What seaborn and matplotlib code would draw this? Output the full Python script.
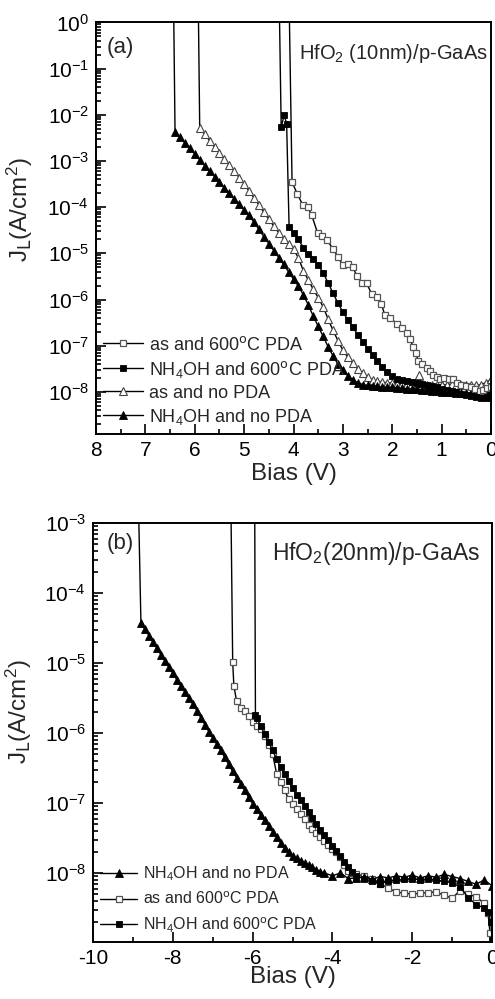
import numpy as np
import matplotlib
matplotlib.use("Agg")
import matplotlib.pyplot as plt
from matplotlib.ticker import LogLocator, MultipleLocator, NullFormatter
import seaborn as sns

sns.set_theme(style="ticks")
plt.rcParams["font.family"] = ["Liberation Sans", "DejaVu Sans"]
plt.rcParams["mathtext.default"] = "regular"
plt.rcParams["axes.unicode_minus"] = False
plt.rcParams["axes.linewidth"] = 1.4

# ---------------- (a) HfO2 (10 nm) / p-GaAs : bias (V) vs log10 J (A/cm^2)
v_a_as600 = [4.09, 4.03, 3.92, 3.81, 3.71, 3.63, 3.51, 3.42, 3.32, 3.20,
             3.10, 3.00, 2.90, 2.80, 2.72, 2.62, 2.52, 2.42, 2.30, 2.22,
             2.15, 2.05, 1.90, 1.80, 1.70, 1.64, 1.58, 1.52, 1.48, 1.40,
             1.30, 1.24, 1.18, 1.10, 1.04, 0.95, 0.85, 0.77, 0.68, 0.60,
             0.50, 0.40, 0.32, 0.23, 0.16, 0.09, 0.00]
lj_a_as600 = [0.5, -3.46, -3.72, -3.96, -4.00, -4.18, -4.57, -4.62, -4.72, -4.90,
              -5.08, -5.26, -5.22, -5.30, -5.48, -5.65, -5.65, -5.87, -5.95, -6.10,
              -6.34, -6.40, -6.52, -6.62, -6.73, -6.85, -7.03, -7.15, -7.32, -7.40,
              -7.49, -7.55, -7.64, -7.68, -7.71, -7.70, -7.72, -7.71, -7.80, -7.85,
              -7.88, -7.90, -7.93, -7.97, -7.95, -7.92, -7.90]

v_a_nh600 = [4.29, 4.25, 4.19, 4.14, 4.09, 4.0, 3.9, 3.8, 3.7, 3.6,
             3.5, 3.4, 3.3, 3.2, 3.1, 3.0, 2.9, 2.8, 2.7, 2.6,
             2.5, 2.4, 2.3, 2.2, 2.1, 2.0, 1.9, 1.8, 1.7, 1.6,
             1.5, 1.4, 1.3, 1.2, 1.1, 1.0, 0.9, 0.8, 0.7, 0.6,
             0.5, 0.4, 0.3, 0.2, 0.1, 0.0]
lj_a_nh600 = [0.5, -2.27, -2.01, -2.19, -4.42, -4.55, -4.70, -4.88, -5.01, -5.12,
              -5.25, -5.42, -5.64, -5.86, -6.08, -6.27, -6.44, -6.60, -6.76, -6.91,
              -7.06, -7.20, -7.33, -7.45, -7.57, -7.66, -7.71, -7.74, -7.76, -7.78,
              -7.80, -7.82, -7.85, -7.88, -7.90, -7.93, -7.96, -7.99, -8.01, -8.04,
              -8.06, -8.09, -8.11, -8.13, -8.14, -8.13]

v_a_asno = [5.93, 5.9, 5.8, 5.7, 5.6, 5.5, 5.4, 5.3, 5.2, 5.1,
            5.0, 4.9, 4.8, 4.7, 4.6, 4.5, 4.4, 4.3, 4.2, 4.1,
            4.0, 3.9, 3.8, 3.7, 3.6, 3.5, 3.4, 3.3, 3.2, 3.1,
            3.0, 2.9, 2.8, 2.7, 2.6, 2.5, 2.4, 2.3, 2.2, 2.1,
            2.0, 1.9, 1.8, 1.7, 1.6, 1.5, 1.45, 1.4, 1.3, 1.2,
            1.1, 1.0, 0.9, 0.8, 0.7, 0.6, 0.5, 0.4, 0.3, 0.2,
            0.1, 0.0]
lj_a_asno = [0.5, -2.28, -2.42, -2.56, -2.70, -2.83, -2.96, -3.09, -3.22, -3.36,
             -3.50, -3.65, -3.80, -3.95, -4.11, -4.26, -4.41, -4.55, -4.68, -4.80,
             -4.91, -5.10, -5.38, -5.58, -5.78, -5.96, -6.16, -6.42, -6.67, -6.89,
             -7.10, -7.25, -7.38, -7.50, -7.60, -7.68, -7.74, -7.77, -7.79, -7.80,
             -7.81, -7.82, -7.82, -7.83, -7.83, -7.80, -7.64, -7.81, -7.84, -7.85,
             -7.85, -7.85, -7.84, -7.83, -7.84, -7.85, -7.85, -7.86, -7.86, -7.84,
             -7.80, -7.72]

v_a_nhno = [6.43, 6.4, 6.3, 6.2, 6.1, 6.0, 5.9, 5.8, 5.7, 5.6,
            5.5, 5.4, 5.3, 5.2, 5.1, 5.0, 4.9, 4.8, 4.7, 4.6,
            4.5, 4.4, 4.3, 4.2, 4.1, 4.0, 3.9, 3.8, 3.7, 3.6,
            3.5, 3.4, 3.3, 3.2, 3.1, 3.0, 2.9, 2.8, 2.7, 2.6,
            2.5, 2.4, 2.3, 2.2, 2.1, 2.0, 1.9, 1.8, 1.7, 1.6,
            1.5, 1.4, 1.3, 1.2, 1.1, 1.0, 0.9, 0.8, 0.7, 0.6,
            0.5, 0.4, 0.3, 0.2, 0.1, 0.0]
lj_a_nhno = [0.5, -2.37, -2.49, -2.61, -2.73, -2.85, -2.97, -3.10, -3.22, -3.34,
             -3.46, -3.58, -3.70, -3.82, -3.94, -4.06, -4.18, -4.33, -4.48, -4.64,
             -4.79, -4.94, -5.09, -5.24, -5.40, -5.56, -5.71, -5.90, -6.12, -6.36,
             -6.58, -6.80, -7.02, -7.22, -7.40, -7.53, -7.65, -7.74, -7.80, -7.84,
             -7.86, -7.87, -7.88, -7.89, -7.90, -7.90, -7.91, -7.92, -7.93, -7.94,
             -7.94, -7.95, -7.96, -7.97, -7.98, -8.00, -8.00, -8.01, -8.02, -8.02,
             -8.03, -8.03, -8.03, -8.02, -8.00, -7.95]

# ---------------- (b) HfO2 (20 nm) / p-GaAs
v_b_nhno = [-8.87, -8.8, -8.7, -8.6, -8.5, -8.4, -8.3, -8.2, -8.1, -8.0,
            -7.9, -7.8, -7.7, -7.6, -7.5, -7.4, -7.3, -7.2, -7.1, -7.0,
            -6.9, -6.8, -6.7, -6.6, -6.5, -6.4, -6.3, -6.2, -6.1, -6.0,
            -5.9, -5.8, -5.7, -5.6, -5.5, -5.4, -5.3, -5.2, -5.1, -5.0,
            -4.9, -4.8, -4.7, -4.6, -4.5, -4.4, -4.3, -4.2, -4.0, -3.8,
            -3.6, -3.4, -3.2, -3.0, -2.8, -2.6, -2.4, -2.2, -2.0, -1.8,
            -1.6, -1.4, -1.2, -1.0, -0.8, -0.6, -0.4, -0.2, 0.0]
lj_b_nhno = [-2.5, -4.43, -4.52, -4.61, -4.70, -4.79, -4.88, -4.97, -5.06, -5.15,
             -5.24, -5.33, -5.41, -5.50, -5.59, -5.68, -5.78, -5.88, -5.98, -6.07,
             -6.16, -6.25, -6.35, -6.45, -6.55, -6.64, -6.73, -6.82, -6.92, -7.01,
             -7.09, -7.17, -7.25, -7.33, -7.41, -7.49, -7.57, -7.64, -7.70, -7.75,
             -7.79, -7.83, -7.86, -7.89, -7.92, -7.95, -7.98, -8.00, -8.04, -8.00,
             -8.08, -8.07, -8.06, -8.09, -8.05, -8.07, -8.04, -8.06, -8.03, -8.07,
             -8.04, -8.06, -8.02, -8.05, -8.08, -8.12, -8.16, -8.10, -8.18]

v_b_as600 = [-6.55, -6.5, -6.47, -6.4, -6.3, -6.2, -6.1, -6.0, -5.9, -5.8,
             -5.7, -5.6, -5.5, -5.4, -5.3, -5.2, -5.1, -5.0, -4.9, -4.8,
             -4.7, -4.6, -4.5, -4.4, -4.3, -4.2, -4.1, -4.0, -3.9, -3.8,
             -3.7, -3.6, -3.5, -3.4, -3.2, -3.0, -2.8, -2.6, -2.4, -2.2,
             -2.0, -1.8, -1.6, -1.4, -1.2, -1.0, -0.8, -0.6, -0.4, -0.2,
             -0.1, -0.05]
lj_b_as600 = [-2.5, -4.99, -5.33, -5.55, -5.64, -5.68, -5.76, -5.85, -5.90, -5.94,
              -6.05, -6.17, -6.30, -6.58, -6.70, -6.82, -6.94, -7.02, -7.09, -7.16,
              -7.23, -7.31, -7.37, -7.43, -7.49, -7.55, -7.60, -7.65, -7.70, -7.77,
              -7.88, -7.97, -8.00, -8.02, -8.04, -8.08, -8.15, -8.22, -8.27, -8.29,
              -8.30, -8.29, -8.28, -8.27, -8.32, -8.36, -8.25, -8.30, -8.34, -8.43,
              -8.57, -8.86]

v_b_nh600 = [-5.95, -5.93, -5.9, -5.8, -5.7, -5.6, -5.5, -5.4, -5.3, -5.2,
             -5.1, -5.0, -4.9, -4.8, -4.7, -4.6, -4.5, -4.4, -4.3, -4.2,
             -4.1, -4.0, -3.9, -3.8, -3.7, -3.6, -3.5, -3.4, -3.2, -3.0,
             -2.8, -2.6, -2.4, -2.2, -2.0, -1.8, -1.6, -1.4, -1.2, -1.0,
             -0.8, -0.6, -0.4, -0.2, -0.1, -0.03, 0.0]
lj_b_nh600 = [-2.5, -5.74, -5.78, -5.90, -6.02, -6.13, -6.25, -6.37, -6.49, -6.59,
              -6.69, -6.79, -6.88, -6.96, -7.04, -7.13, -7.22, -7.30, -7.39, -7.46,
              -7.53, -7.61, -7.68, -7.76, -7.84, -7.92, -7.99, -8.04, -8.08, -8.12,
              -8.15, -8.12, -8.10, -8.09, -8.08, -8.10, -8.08, -8.10, -8.12, -8.14,
              -8.20, -8.35, -8.45, -8.50, -8.55, -8.70, -8.95]

LBL_AS600 = r"as and 600$^{\mathrm{o}}$C PDA"
LBL_NH600 = r"NH$_4$OH and 600$^{\mathrm{o}}$C PDA"
LBL_ASNO = "as and no PDA"
LBL_NHNO = r"NH$_4$OH and no PDA"

STYLES = {
    "open_sq": dict(marker="s", markersize=4.6, markerfacecolor="white",
                    markeredgecolor="#555555", markeredgewidth=0.9),
    "fill_sq": dict(marker="s", markersize=4.6, markerfacecolor="black",
                    markeredgecolor="black", markeredgewidth=0.6),
    "open_tri": dict(marker="^", markersize=5.6, markerfacecolor="white",
                     markeredgecolor="#444444", markeredgewidth=0.8),
    "fill_tri": dict(marker="^", markersize=5.6, markerfacecolor="black",
                     markeredgecolor="black", markeredgewidth=0.6),
}


def draw(ax, v, lj, style, label):
    j = np.power(10.0, np.asarray(lj))
    sns.lineplot(x=v, y=j, ax=ax, sort=False, estimator=None, color="black",
                 linewidth=1.0, label=label, legend=False, **STYLES[style])


def style_axes(ax, xlabelpad):
    ax.set_yscale("log")
    ax.yaxis.set_major_locator(LogLocator(base=10, numticks=30))
    ax.yaxis.set_minor_locator(LogLocator(base=10, subs=np.arange(2, 10), numticks=30))
    ax.yaxis.set_minor_formatter(NullFormatter())
    ax.tick_params(which="both", direction="in", top=False, right=False,
                   labelsize=15, colors="black", width=1.2)
    ax.tick_params(which="major", length=7, pad=5)
    ax.tick_params(which="minor", length=3.5)
    for s in ax.spines.values():
        s.set_linewidth(1.4)
        s.set_color("black")
    ax.set_xlabel("Bias (V)", fontsize=17.5, labelpad=xlabelpad)
    ax.set_ylabel(r"J$_{\mathrm{L}}$(A/cm$^2$)", fontsize=17.5)


fig = plt.figure(figsize=(4.95, 9.99), dpi=100)

# panel (a)
ax1 = fig.add_axes([0.194, 0.5656, 0.798, 0.412])
draw(ax1, v_a_asno, lj_a_asno, "open_tri", LBL_ASNO)
draw(ax1, v_a_nhno, lj_a_nhno, "fill_tri", LBL_NHNO)
draw(ax1, v_a_as600, lj_a_as600, "open_sq", LBL_AS600)
draw(ax1, v_a_nh600, lj_a_nh600, "fill_sq", LBL_NH600)
style_axes(ax1, 2)
ax1.set_xlim(8, 0)
ax1.set_ylim(10 ** -8.91, 1.0)
ax1.xaxis.set_major_locator(MultipleLocator(1))
ax1.xaxis.set_minor_locator(MultipleLocator(0.5))
ax1.yaxis.set_label_coords(-0.155, 0.545)
h, l = ax1.get_legend_handles_labels()
order = [LBL_AS600, LBL_NH600, LBL_ASNO, LBL_NHNO]
hd = dict(zip(l, h))
ax1.legend([hd[k] for k in order], order, loc="lower left", frameon=False,
           fontsize=13, handlelength=2.2, handletextpad=0.35, labelspacing=0.28,
           borderaxespad=0.1, borderpad=0.3)
ax1.text(0.028, 0.965, "(a)", transform=ax1.transAxes, fontsize=16, va="top", ha="left")
ax1.text(0.515, 0.952, r"HfO$_2$ (10nm)/p-GaAs", transform=ax1.transAxes,
         fontsize=14.5, va="top", ha="left")

# panel (b)
ax2 = fig.add_axes([0.188, 0.0571, 0.806, 0.4194])
draw(ax2, v_b_as600, lj_b_as600, "open_sq", LBL_AS600)
draw(ax2, v_b_nh600, lj_b_nh600, "fill_sq", LBL_NH600)
draw(ax2, v_b_nhno, lj_b_nhno, "fill_tri", LBL_NHNO)
style_axes(ax2, -1.5)
ax2.set_xlim(-10, 0)
ax2.set_ylim(10 ** -8.985, 1e-3)
ax2.xaxis.set_major_locator(MultipleLocator(2))
ax2.xaxis.set_minor_locator(MultipleLocator(1))
ax2.yaxis.set_label_coords(-0.148, 0.55)
h, l = ax2.get_legend_handles_labels()
order = [LBL_NHNO, LBL_AS600, LBL_NH600]
hd = dict(zip(l, h))
ax2.legend([hd[k] for k in order], order, loc="lower left", frameon=False,
           fontsize=11.5, handlelength=2.3, handletextpad=0.4, labelspacing=0.5,
           borderaxespad=0.15, borderpad=0.3)
ax2.text(0.035, 0.976, "(b)", transform=ax2.transAxes, fontsize=16, va="top", ha="left")
ax2.text(0.449, 0.96, r"HfO$_2$(20nm)/p-GaAs", transform=ax2.transAxes,
         fontsize=16.5, va="top", ha="left")

fig.savefig("out.png", dpi=100)
